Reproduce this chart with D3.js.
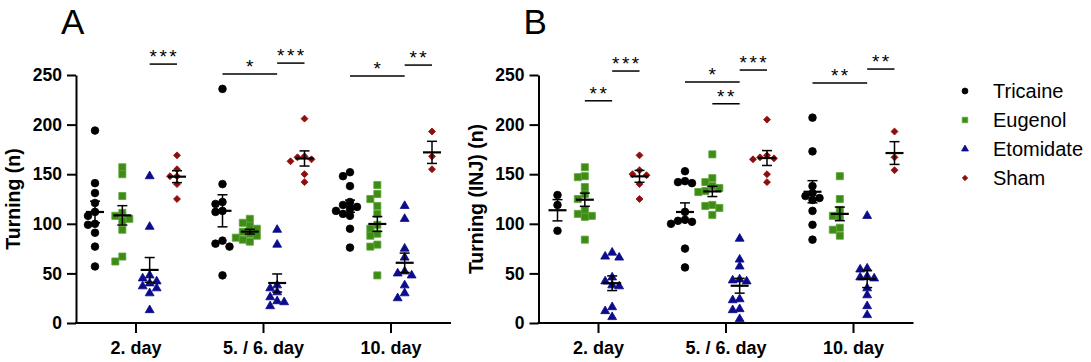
<!DOCTYPE html>
<html>
<head>
<meta charset="utf-8">
<script src="https://cdn.jsdelivr.net/npm/d3@7"></script>
<style>
  body { margin: 0; background: #fff; }
  svg text { font-family: "Liberation Sans", Arial, sans-serif; }
</style>
</head>
<body>
<div id="wrapper"></div>
<script>
/*
two panels of dot plots (mean +- SEM), one per day, four groups each
values
*/
const days = ["2. day", "5. / 6. day", "10. day"]
const groups = ["Tricaine", "Eugenol", "Etomidate", "Sham"]
const yTicks = [0, 50, 100, 150, 200, 250]

// panel A: Turning (n), one list per day
const tricaineA = [
  [194, 141, 131, 121, 112, 108, 100, 99, 91, 77, 57],
  [236, 140, 122, 120, 113, 112, 83, 80, 77, 48],
  [152, 148, 138, 122, 119, 117, 115, 113, 110, 108, 95, 76],
]
const eugenolA = [
  [157, 150, 128, 111, 108, 105, 103, 94, 67, 62],
  [105, 101, 98, 95, 92, 90, 88, 86, 84, 82],
  [139, 130, 125, 118, 110, 99, 95, 90, 88, 79, 77, 48],
]
const etomidateA = [
  [148, 97, 48, 45, 42, 40, 37, 35, 30, 13],
  [94, 79, 38, 35, 31, 26, 22, 21, 17],
  [118, 105, 75, 66, 52, 50, 48, 38, 30, 25],
]
const shamA = [
  [169, 155, 148, 148, 140, 125],
  [206, 168, 167, 165, 163, 150, 142],
  [193, 168, 155],
]

// panel B: Turning (INJ) (n)
const tricaineB = [
  [129, 119, 93],
  [153, 143, 142, 141, 112, 104, 103, 102, 100, 75, 56],
  [207, 173, 138, 131, 128, 126, 124, 113, 99, 84],
]
const eugenolB = [
  [157, 148, 147, 137, 130, 125, 114, 110, 108, 107, 84],
  [170, 146, 142, 138, 136, 133, 132, 119, 118, 116, 109],
  [148, 125, 114, 108, 107, 96, 94, 88],
]
const etomidateB = [
  [71, 67, 66, 46, 42, 38, 37, 16, 12, 6],
  [85, 64, 57, 44, 43, 42, 24, 23, 14, 13, 4],
  [108, 55, 54, 47, 46, 45, 35, 28, 17, 8],
]
const shamB = [
  [169, 154, 150, 149, 140, 125],
  [205, 169, 167, 166, 165, 150, 142],
  [193, 167, 154],
]

// significance bars: day index, from group, to group, height (data units), stars
const sigA = [
  [0, "Etomidate", "Sham", 261, "***"],
  [1, "Tricaine", "Etomidate", 251, "*"],
  [1, "Etomidate", "Sham", 262, "***"],
  [2, "Tricaine", "Etomidate", 249, "*"],
  [2, "Etomidate", "Sham", 260, "**"],
]
const sigB = [
  [0, "Eugenol", "Etomidate", 224, "**"],
  [0, "Etomidate", "Sham", 254, "***"],
  [1, "Tricaine", "Etomidate", 243, "*"],
  [1, "Eugenol", "Etomidate", 221, "**"],
  [1, "Etomidate", "Sham", 255, "***"],
  [2, "Tricaine", "Etomidate", 242, "**"],
  [2, "Etomidate", "Sham", 256, "**"],
]

const colors = {
  Tricaine: "#000000",
  Eugenol: "#3e8c16",
  Etomidate: "#0b0b8c",
  Sham: "#8e0d0d",
}
const strokes = {
  Tricaine: "#000000",
  Eugenol: "#5aa336",
  Etomidate: "#0b0b8c",
  Sham: "#8e0d0d",
}
const shapes = {
  Tricaine: { type: d3.symbolCircle, size: 46, rot: 0 },
  Eugenol: { type: d3.symbolSquare, size: 50, rot: 0 },
  Etomidate: { type: d3.symbolTriangle, size: 34, rot: 0 },
  Sham: { type: d3.symbolSquare, size: 24, rot: 45 },
}

/* dimensions */
const width = 1091
const height = 362

const wrapper = d3.select("#wrapper")
  .append("svg")
  .attr("width", width)
  .attr("height", height)

const y = d3.scaleLinear()
  .domain([0, 250])
  .range([323, 75])

// group position inside a day
const groupScale = d3.scalePoint()
  .domain(groups)
  .range([-41, 41])

// spread points that would overlap (simple beeswarm)
function swarm(values, cx) {
  const placed = []
  const sorted = values.slice().sort((a, b) => b - a)
  const step = 7
  sorted.forEach(function (v) {
    const py = y(v)
    let k = 0
    let px = cx
    while (true) {
      const off = k === 0 ? 0 : (k % 2 === 1 ? -1 : 1) * Math.ceil(k / 2) * step
      px = cx + off
      const hit = placed.some(p => Math.hypot(p.x - px, p.y - py) < step - 0.5)
      if (!hit) break
      k++
    }
    placed.push({ x: px, y: py, v: v })
  })
  return placed
}

function drawPanel(ox, letter, yTitle, series, sig) {
  const axisLeft = ox + 76
  const axisRight = ox + 451

  const x = d3.scaleBand()
    .domain(days)
    .range([axisLeft - 3.75, axisLeft + 378.75])

  const g = wrapper.append("g")

  // panel letter
  g.append("text")
    .attr("x", ox + 61)
    .attr("y", 34)
    .style("font-size", "35px")
    .text(letter)

  // y axis
  const yAxis = g.append("g")
    .attr("transform", `translate(${axisLeft},0)`)
    .call(d3.axisLeft(y).tickValues(yTicks).tickSize(9).tickSizeOuter(0).tickPadding(5))
  yAxis.select(".domain").attr("stroke-width", 2)
  yAxis.selectAll(".tick line").attr("stroke-width", 2)
  yAxis.selectAll(".tick text")
    .style("font-size", "17.5px")
    .style("font-weight", "bold")
    .attr("fill", "#000")

  // x axis
  const xAxis = g.append("g")
    .attr("transform", `translate(0,${y(0)})`)
    .call(d3.axisBottom(x).tickSize(10).tickSizeOuter(0).tickPadding(8))
  xAxis.select(".domain").remove()
  xAxis.append("line")
    .attr("x1", axisLeft - 1)
    .attr("x2", axisRight)
    .attr("stroke", "#000")
    .attr("stroke-width", 2)
  xAxis.selectAll(".tick line").attr("stroke-width", 2)
  xAxis.selectAll(".tick text")
    .style("font-size", "18px")
    .style("font-weight", "bold")
    .attr("fill", "#000")

  // y title
  g.append("text")
    .attr("transform", `translate(${ox + 20},${(y(0) + y(250)) / 2}) rotate(-90)`)
    .attr("text-anchor", "middle")
    .style("font-size", "19.5px")
    .style("font-weight", "bold")
    .text(yTitle)

  // points + mean/SEM
  groups.forEach(function (grp, gi) {
    series[gi].forEach(function (vals, di) {
      const cx = x(days[di]) + x.bandwidth() / 2 + groupScale(grp)
      const pts = swarm(vals, cx)
      const sh = shapes[grp]
      g.append("g")
        .selectAll("path")
        .data(pts)
        .join("path")
        .attr("d", d3.symbol().type(sh.type).size(sh.size))
        .attr("transform", d => `translate(${d.x},${d.y}) rotate(${sh.rot})`)
        .attr("fill", colors[grp])
        .attr("stroke", strokes[grp])
        .attr("stroke-width", 0.8)

      const mean = d3.mean(vals)
      const sem = d3.deviation(vals) / Math.sqrt(vals.length)
      const eb = g.append("g").attr("stroke", "#000")
      eb.append("line")
        .attr("x1", cx).attr("x2", cx)
        .attr("y1", y(mean + sem)).attr("y2", y(mean - sem))
        .attr("stroke-width", 1.5)
      eb.selectAll(".cap")
        .data([mean + sem, mean - sem])
        .join("line")
        .attr("x1", cx - 5).attr("x2", cx + 5)
        .attr("y1", d => y(d)).attr("y2", d => y(d))
        .attr("stroke-width", 1.5)
      eb.append("line")
        .attr("x1", cx - 9).attr("x2", cx + 9)
        .attr("y1", y(mean)).attr("y2", y(mean))
        .attr("stroke-width", 2.2)
    })
  })

  // significance bars
  const sg = g.append("g")
  sig.forEach(function (s) {
    const base = x(days[s[0]]) + x.bandwidth() / 2
    const x1 = base + groupScale(s[1])
    const x2 = base + groupScale(s[2])
    sg.append("line")
      .attr("x1", x1).attr("x2", x2)
      .attr("y1", y(s[3])).attr("y2", y(s[3]))
      .attr("stroke", "#000")
      .attr("stroke-width", 1.5)
    sg.append("text")
      .attr("x", (x1 + x2) / 2 + 1)
      .attr("y", y(s[3]) - 1)
      .attr("text-anchor", "middle")
      .style("font-size", "19px")
      .style("letter-spacing", "2.5px")
      .text(s[4])
  })
}

drawPanel(0, "A", "Turning (n)", [tricaineA, eugenolA, etomidateA, shamA], sigA)
drawPanel(462.5, "B", "Turning (INJ) (n)", [tricaineB, eugenolB, etomidateB, shamB], sigB)

/* legend */
const legend = wrapper.append("g")
  .selectAll("g")
  .data(groups)
  .join("g")
  .attr("transform", (d, i) => `translate(965,${91 + i * 29})`)

legend.append("path")
  .attr("d", d => d3.symbol().type(shapes[d].type).size(shapes[d].size * 0.6)())
  .attr("transform", d => `rotate(${shapes[d].rot})`)
  .attr("fill", d => colors[d])
  .attr("stroke", d => strokes[d])
  .attr("stroke-width", 0.8)

legend.append("text")
  .attr("x", 28)
  .attr("dy", "0.36em")
  .style("font-size", "20px")
  .text(d => d)
</script>
</body>
</html>
